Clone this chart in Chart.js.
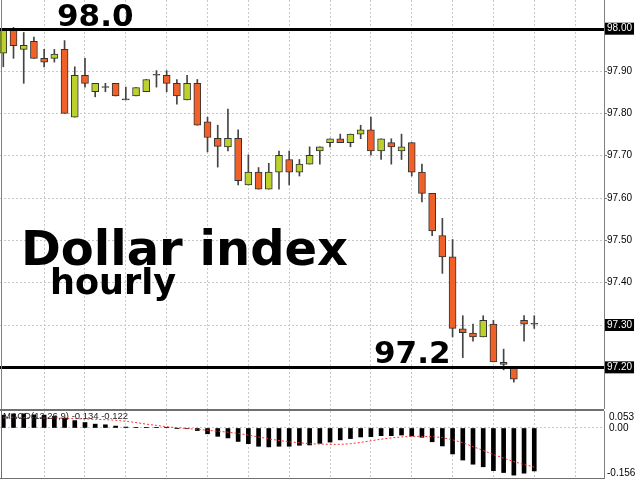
<!DOCTYPE html>
<html>
<head>
<meta charset="utf-8">
<script src="https://cdn.jsdelivr.net/npm/chart.js@4.4.1/dist/chart.umd.min.js"></script>
<style>
body{margin:0;background:#fff;}
#wrap{position:relative;width:640px;height:480px;overflow:hidden;background:#fff;}
canvas{position:absolute;left:0;}
#main{top:0;}
#macd{top:409px;}
.note{position:absolute;font-family:"DejaVu Sans";font-weight:bold;color:#000;line-height:1;white-space:nowrap;}
#macdTitle{position:absolute;left:3px;top:411px;font-family:"Liberation Sans";font-size:9.5px;line-height:10px;color:#222;white-space:nowrap;}
</style>
</head>
<body>
<div id="wrap">
  <canvas id="main" width="640" height="409"></canvas>
  <canvas id="macd" width="640" height="71"></canvas>
  <div class="note" style="left:57px;top:0px;font-size:31px;">98.0</div>
  <div class="note" style="left:374px;top:337px;font-size:31px;">97.2</div>
  <div class="note" style="left:21px;top:224px;font-size:48px;">Dollar index</div>
  <div class="note" style="left:50px;top:265px;font-size:35px;">hourly</div>
  <div id="macdTitle">MACD(12,26,9) -0.134 -0.122</div>
</div>
<script>
'use strict';
// hourly candles, oldest first
let opens = [97.942, 98.000, 97.951, 97.970, 97.930, 97.930, 97.951, 97.791, 97.890, 97.851,
  97.861, 97.871, 97.832, 97.841, 97.851, 97.890, 97.890, 97.871, 97.832, 97.871,
  97.780, 97.741, 97.721, 97.741, 97.631, 97.661, 97.621, 97.661, 97.691, 97.661,
  97.680, 97.711, 97.731, 97.740, 97.731, 97.751, 97.761, 97.711, 97.731, 97.711,
  97.731, 97.661, 97.611, 97.511, 97.461, 97.291, 97.281, 97.272, 97.302, 97.212,
  97.198, 97.311, 97.302];
let highs = [98.000, 98.003, 97.991, 97.980, 97.951, 97.951, 97.972, 97.910, 97.930, 97.871,
  97.871, 97.871, 97.862, 97.861, 97.880, 97.901, 97.901, 97.880, 97.890, 97.880,
  97.791, 97.772, 97.810, 97.761, 97.702, 97.672, 97.682, 97.711, 97.711, 97.691,
  97.721, 97.721, 97.740, 97.751, 97.751, 97.772, 97.791, 97.740, 97.740, 97.751,
  97.731, 97.680, 97.611, 97.552, 97.502, 97.322, 97.302, 97.322, 97.311, 97.243,
  97.198, 97.322, 97.322];
let lows = [97.910, 97.930, 97.871, 97.930, 97.910, 97.921, 97.800, 97.791, 97.862, 97.839,
  97.851, 97.841, 97.832, 97.841, 97.851, 97.862, 97.851, 97.822, 97.832, 97.772,
  97.709, 97.673, 97.711, 97.631, 97.631, 97.621, 97.621, 97.621, 97.631, 97.652,
  97.680, 97.680, 97.721, 97.731, 97.721, 97.740, 97.701, 97.691, 97.680, 97.691,
  97.652, 97.591, 97.511, 97.422, 97.272, 97.223, 97.262, 97.272, 97.213, 97.194,
  97.165, 97.262, 97.292];
let closes = [97.998, 97.960, 97.961, 97.930, 97.921, 97.940, 97.800, 97.890, 97.871, 97.871,
  97.861, 97.841, 97.832, 97.861, 97.880, 97.890, 97.871, 97.841, 97.871, 97.772,
  97.743, 97.722, 97.741, 97.641, 97.661, 97.621, 97.661, 97.701, 97.661, 97.680,
  97.701, 97.721, 97.740, 97.731, 97.751, 97.761, 97.711, 97.740, 97.721, 97.721,
  97.661, 97.611, 97.522, 97.461, 97.292, 97.282, 97.272, 97.311, 97.213, 97.207,
  97.172, 97.302, 97.302];

// MACD(12,26,9) panel
let macdHist = [0.040, 0.044, 0.044, 0.041, 0.040, 0.036, 0.031, 0.023, 0.017, 0.012,
  0.010, 0.006, 0.003, 0.002, 0.001, 0.001, 0.001, -0.001, -0.001, -0.008,
  -0.018, -0.026, -0.031, -0.042, -0.049, -0.057, -0.059, -0.057, -0.057, -0.054,
  -0.053, -0.048, -0.044, -0.037, -0.033, -0.028, -0.027, -0.024, -0.024, -0.022,
  -0.025, -0.029, -0.043, -0.056, -0.081, -0.100, -0.113, -0.121, -0.133, -0.139,
  -0.147, -0.141, -0.134];
let macdSignal = [0.032, 0.032, 0.032, 0.032, 0.031, 0.031, 0.030, 0.029, 0.028, 0.027,
  0.026, 0.024, 0.021, 0.017, 0.012, 0.008, 0.004, 0.001, -0.002, -0.004,
  -0.007, -0.010, -0.013, -0.017, -0.022, -0.028, -0.034, -0.039, -0.043, -0.046,
  -0.049, -0.050, -0.051, -0.051, -0.049, -0.045, -0.040, -0.035, -0.031, -0.028,
  -0.026, -0.026, -0.027, -0.030, -0.037, -0.046, -0.058, -0.070, -0.083, -0.094,
  -0.105, -0.114, -0.122];

let priceTicks = [98.0, 97.9, 97.8, 97.7, 97.6, 97.5, 97.4, 97.3, 97.2];
let markedPrices = [98.0, 97.3, 97.2];   // labels shown in black boxes
let levels = [98.0, 97.2];               // thick horizontal lines
let timeGrid = [4, 8, 12, 16, 20, 24, 28, 32, 36, 40, 44, 48, 52, 56];
let macdLabels = ['0.053', '0.00', '-0.156'];
let macdMax = 0.053;
let macdMin = -0.156;

let upColor = '#bdd12e';
let downColor = '#f0612a';
let dojiColor = '#555555';
let gridColor = '#c8c8c8';
let axisColor = '#808080';

let xMin = -0.323;
let xMax = 58.83;

let bodies = [];
let wicks = [];
let bodyColors = [];
for (let i = 0; i < opens.length; i++) {
  bodies.push({x: i, y: [opens[i], closes[i]]});
  wicks.push({x: i, y: [lows[i], highs[i]]});
  if (closes[i] > opens[i]) bodyColors.push(upColor);
  else if (closes[i] < opens[i]) bodyColors.push(downColor);
  else bodyColors.push(dojiColor);
}
let histPoints = macdHist.map((v, i) => ({x: i, y: v}));
let signalPoints = macdSignal.map((v, i) => ({x: i, y: v}));

function isMarked(v) {
  return markedPrices.some(m => Math.abs(m - v) < 0.0001);
}

function xAxis() {
  return {
    type: 'linear',
    min: xMin,
    max: xMax,
    offset: false,
    afterBuildTicks: scale => { scale.ticks = timeGrid.map(v => ({value: v})); },
    ticks: {display: false},
    grid: {color: gridColor, drawTicks: false, offset: false},
    border: {display: false, dash: [2, 2]}
  };
}

function noPad(scale) {
  scale.width = 36;
  scale.paddingTop = 0;
  scale.paddingBottom = 0;
}

const mainDeco = {
  id: 'mainDeco',
  afterDatasetsDraw(chart) {
    const {ctx, chartArea, scales} = chart;
    ctx.save();
    ctx.fillStyle = '#000';
    levels.forEach(v => {
      let py = Math.round(scales.y.getPixelForValue(v));
      ctx.fillRect(chartArea.left, py - 1, chartArea.right - chartArea.left, 3);
    });
    ctx.fillStyle = axisColor;
    ctx.fillRect(1, 0, 1, chart.height);
    ctx.restore();
  }
};

const macdDeco = {
  id: 'macdDeco',
  afterDraw(chart) {
    const {ctx, chartArea, scales} = chart;
    ctx.save();
    ctx.fillStyle = '#707070';
    ctx.fillRect(0, chartArea.top - 2, chartArea.right, 2);
    ctx.fillRect(0, chartArea.bottom, chartArea.right, 1);
    ctx.fillRect(1, chartArea.top, 1, chartArea.bottom - chartArea.top);
    ctx.font = '10px "Liberation Sans"';
    ctx.fillStyle = '#000';
    ctx.textBaseline = 'middle';
    ctx.fillText(macdLabels[0], chartArea.right + 5, chartArea.top + 6);
    ctx.fillText(macdLabels[1], chartArea.right + 5, scales.y.getPixelForValue(0));
    ctx.fillText(macdLabels[2], chartArea.right + 3, chartArea.bottom - 5);
    ctx.restore();
  }
};

new Chart(document.getElementById('main'), {
  type: 'bar',
  data: {
    datasets: [{
      label: 'body',
      data: bodies,
      backgroundColor: bodyColors,
      borderColor: '#333333',
      borderWidth: 1,
      borderSkipped: false,
      barThickness: 7,
      minBarLength: 1,
      grouped: false,
      order: 0
    }, {
      label: 'wick',
      data: wicks,
      backgroundColor: '#444444',
      borderWidth: 0,
      barThickness: 1,
      grouped: false,
      order: 1
    }]
  },
  options: {
    responsive: false,
    animation: false,
    events: [],
    layout: {padding: 0},
    plugins: {legend: {display: false}, tooltip: {enabled: false}},
    scales: {
      x: xAxis(),
      y: {
        position: 'right',
        min: 97.1016,
        max: 98.0678,
        afterBuildTicks: scale => { scale.ticks = priceTicks.map(v => ({value: v})); },
        afterFit: noPad,
        ticks: {
          callback: v => v.toFixed(2),
          font: {family: 'Liberation Sans', size: 10, lineHeight: 1},
          padding: 0,
          color: ctx => isMarked(ctx.tick.value) ? '#fff' : '#000',
          showLabelBackdrop: ctx => isMarked(ctx.tick.value),
          backdropColor: '#000',
          backdropPadding: {top: 1, bottom: 1, left: 2, right: 2}
        },
        grid: {color: gridColor, tickLength: 3, tickColor: axisColor},
        border: {display: true, color: axisColor, width: 1, dash: [2, 2]}
      }
    }
  },
  plugins: [mainDeco]
});

new Chart(document.getElementById('macd'), {
  type: 'bar',
  data: {
    datasets: [{
      type: 'line',
      label: 'signal',
      data: signalPoints,
      borderColor: '#ff3030',
      borderWidth: 1,
      borderDash: [2, 2],
      pointRadius: 0,
      order: 0
    }, {
      label: 'macd',
      data: histPoints,
      backgroundColor: '#000',
      barThickness: 4,
      order: 1
    }]
  },
  options: {
    responsive: false,
    animation: false,
    events: [],
    layout: {padding: {top: 2, bottom: 2, left: 0, right: 0}},
    plugins: {legend: {display: false}, tooltip: {enabled: false}},
    scales: {
      x: xAxis(),
      y: {
        position: 'right',
        min: macdMin,
        max: macdMax,
        afterBuildTicks: scale => { scale.ticks = [{value: 0}]; },
        afterFit: noPad,
        ticks: {display: false},
        grid: {color: gridColor, drawTicks: false},
        border: {display: true, color: axisColor, width: 1, dash: [2, 2]}
      }
    }
  },
  plugins: [macdDeco]
});
</script>
</body>
</html>
